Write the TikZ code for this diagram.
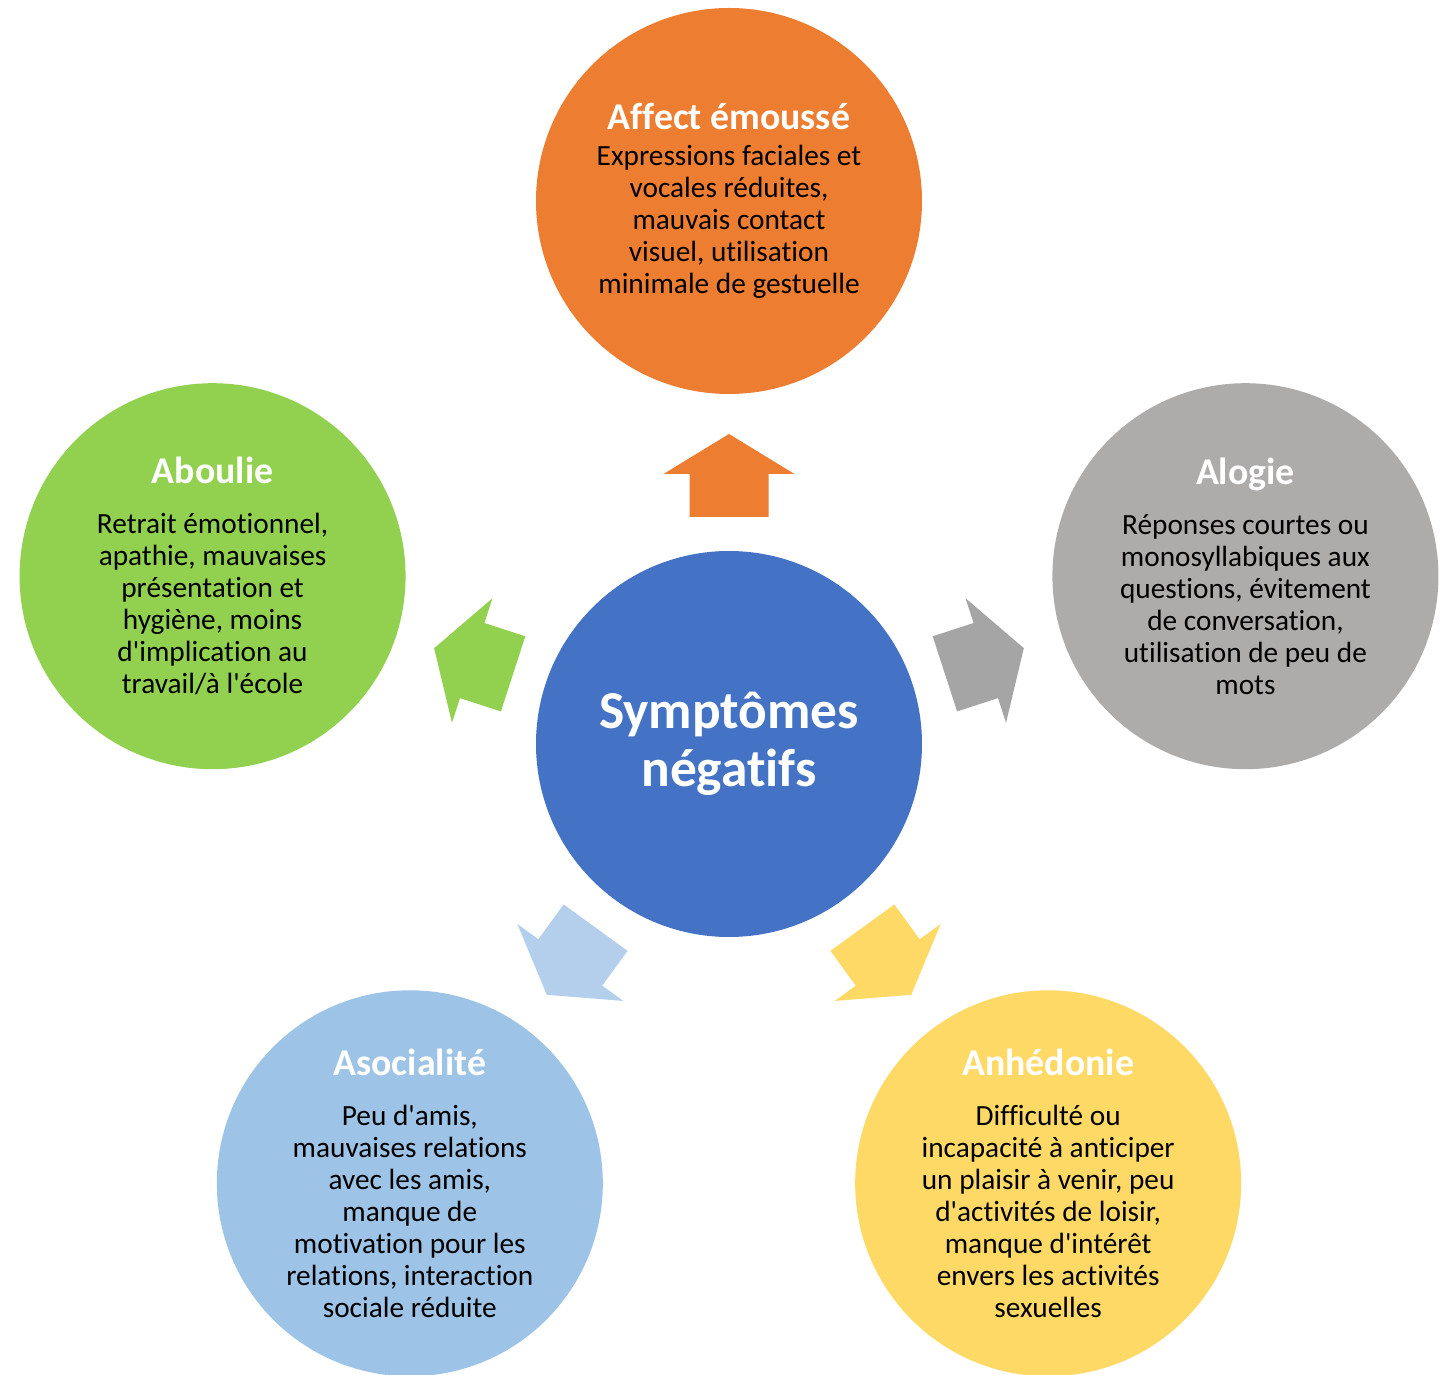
\documentclass[tikz,border=0pt]{standalone}
\usepackage{fontspec}
\setmainfont{Carlito}[Ligatures={TeXOff,CommonOff}]
\usepackage{tikz}

\definecolor{orangeS}{HTML}{ED7D31}
\definecolor{blueS}{HTML}{4472C4}
\definecolor{grayS}{HTML}{AEABAB}
\definecolor{grayA}{HTML}{A5A5A5}
\definecolor{greenS}{HTML}{92D050}
\definecolor{lblueS}{HTML}{9DC3E6}
\definecolor{lblueA}{HTML}{B4CFEC}
\definecolor{yellowS}{HTML}{FFD966}

\newcommand{\ttl}[1]{{\fontsize{37.8}{37.8}\selectfont\bfseries\color{white}#1}}

\tikzset{
  bubble/.style={circle,minimum size=386pt,inner sep=0pt,align=center,
    font=\fontsize{29.3}{32}\selectfont},
}

\begin{document}
\begin{tikzpicture}[x=1pt,y=1pt]
\useasboundingbox (-729,-631) rectangle (721,744);

\node [bubble,fill=blueS,text=white,font=\fontsize{53.4}{58}\selectfont\bfseries] (c) at(0,0){Symptômes\\négatifs};

\node [bubble,fill=orangeS] (affect) at(90:543){\ttl{Affect émoussé}\\[4pt]Expressions faciales et\\vocales réduites,\\mauvais contact\\visuel, utilisation\\minimale de gestuelle};
\node [bubble,fill=grayS] (alogie) at(18:543){\ttl{Alogie}\\[18pt]Réponses courtes ou\\monosyllabiques aux\\questions, évitement\\de conversation,\\utilisation de peu de\\mots};
\node [bubble,fill=greenS] (aboulie) at(162:543){\ttl{Aboulie}\\[18pt]Retrait émotionnel,\\apathie, mauvaises\\présentation et\\hygiène, moins\\d'implication au\\travail/à l'école};
\node [bubble,fill=lblueS] (asoc) at(234:543){\ttl{Asocialité}\\[18pt]Peu d'amis,\\mauvaises relations\\avec les amis,\\manque de\\motivation pour les\\relations, interaction\\sociale réduite};
\node [bubble,fill=yellowS] (anhed) at(306:543){\ttl{Anhédonie}\\[18pt]Difficulté ou\\incapacité à anticiper\\un plaisir à venir, peu\\d'activités de loisir,\\manque d'intérêt\\envers les activités\\sexuelles};

% block arrows around the centre
\foreach \a/\col in {0/orangeS,-72/grayA,72/greenS,144/lblueA,-144/yellowS}
  \fill[\col,rotate around={\a:(c.center)}] (-39.5,227) -- (39.5,227) -- (39.5,270) -- (65.5,270) -- (0,310) -- (-65.5,270) -- (-39.5,270) -- cycle;

\end{tikzpicture}
\end{document}
